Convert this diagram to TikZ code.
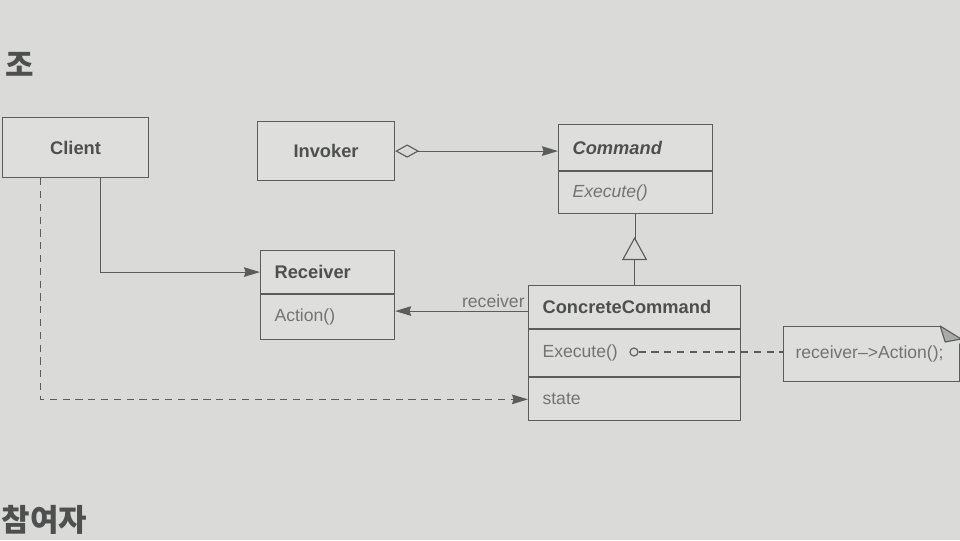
\documentclass[tikz,border=0pt]{standalone}
\usepackage{fontspec}
\setmainfont{Liberation Sans}
\newfontfamily\kofont{Noto Sans CJK KR}
\usetikzlibrary{positioning,arrows.meta}
\definecolor{paper}{HTML}{DADBD9}
\definecolor{boxbg}{HTML}{DEDFDD}
\definecolor{ink}{HTML}{5B5C5C}
\definecolor{txt}{HTML}{4E4F4F}
\definecolor{soft}{HTML}{727373}
\definecolor{fold}{HTML}{A9AAAA}
\begin{document}
\begin{tikzpicture}[x=0.025cm,y=-0.025cm,line width=0.8pt,
  ln/.style={draw=ink},
  dsh/.style={draw=ink,dash pattern=on 0.18cm off 0.14cm},
  tip/.style={-{Stealth[length=0.4cm,width=0.24cm,inset=0.04cm]}},
  plain/.style={draw=ink,fill=boxbg,anchor=north west,inner sep=0pt,
    font=\fontsize{13}{15}\selectfont\bfseries,text=txt},
  cls/.style={draw=ink,fill=boxbg,anchor=north west,align=left,inner xsep=0.35cm,
    inner ysep=0pt,text width=#1,font=\fontsize{13}{15}\selectfont\bfseries,text=txt},
  ops/.style={cls=#1,font=\fontsize{12.5}{15}\selectfont,text=soft},
  lbl/.style={font=\fontsize{12.5}{15}\selectfont,text=soft,inner sep=2pt},
  hangul/.style={font=\kofont\fontsize{22}{24}\selectfont\bfseries,text=txt,inner sep=0pt}]
  \useasboundingbox (0,0) rectangle (960,540);
  \clip (0,0) rectangle (960,540);
  \fill[paper] (0,0) rectangle (960,540);

  \node[hangul,anchor=west] (sec) at (5,64) {조};
  \node[hangul,anchor=west] (part) at (1,520) {참여자};

  \node[plain,minimum width=3.65cm,minimum height=1.5cm] (cl) at (2,117) {Client};
  \node[plain,minimum width=3.425cm,minimum height=1.475cm] (inv) at (257,121) {Invoker};

  \node[cls=3.15cm,minimum height=1.15cm] (cmd) at (558,124) {\itshape Command};
  \node[ops=3.15cm,minimum height=1.05cm,below=0pt of cmd] (cmdops) {\itshape Execute()};

  \node[cls=2.65cm,minimum height=1.075cm] (rcv) at (260,250) {Receiver};
  \node[ops=2.65cm,minimum height=1.125cm,below=0pt of rcv] (rcvops) {Action()};

  \node[cls=4.6cm,minimum height=1.075cm] (cc) at (528,285) {ConcreteCommand};
  \node[ops=4.6cm,minimum height=1.175cm,below=0pt of cc] (ccops) {Execute()};
  \node[ops=4.6cm,minimum height=1.075cm,below=0pt of ccops] (ccattr) {state};

  \node[ops=3.8cm,inner xsep=0.3cm,minimum height=1.375cm] (note) at (783,326) {receiver\textendash{}>Action();};
  \fill[paper] ([xshift=-0.5cm]note.north east) -- ([yshift=0.1cm]note.north east) -- ([yshift=-0.45cm]note.north east) -- cycle;
  \draw[ln,line join=round,fill=fold] ([xshift=-0.5cm]note.north east) -- ++(5,16) -- ++(16,-3) -- cycle;

  \node[circle,draw=ink,fill=boxbg,inner sep=0pt,minimum size=0.2cm] (dot) at (634,352) {};

  \draw[ln,{Diamond[open,length=0.6cm,width=0.33cm]}-{Stealth[length=0.4cm,width=0.24cm,inset=0.04cm]}]
    (inv.east) -- (inv.east -| cmd.west);
  \draw[ln,tip] ([xshift=0.625cm]cl.south) |- (rcv.west);
  \draw[ln,tip] ([yshift=-0.1cm]cc.west) -- ([yshift=-0.1cm]cc.west -| rcvops.east)
    node[lbl,pos=0,above left] {receiver};
  \draw[ln] (cmdops.south) -- ++(0,25);
  \draw[ln,-{Triangle[open,length=0.575cm,width=0.625cm]}] (cc.north) -- ++(0,-48);
  \draw[dsh,tip] ([xshift=-0.875cm]cl.south) |- (ccattr.west);
  \draw[dsh] (dot) -- (dot -| note.west);
\end{tikzpicture}
\end{document}
